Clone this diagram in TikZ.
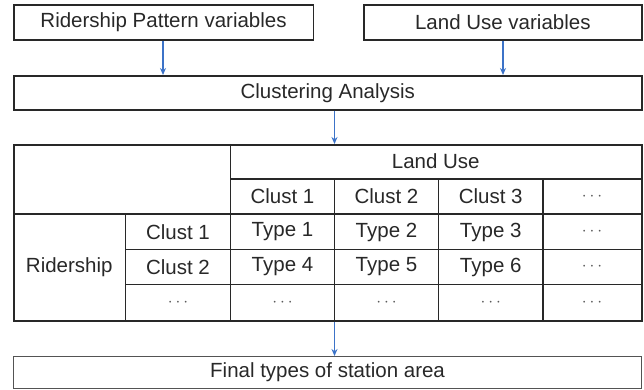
\documentclass[tikz,border=0pt]{standalone}
\usepackage{fontspec}
\setmainfont{Liberation Sans}
\usetikzlibrary{arrows.meta}
\definecolor{ink}{RGB}{40,40,40}
\definecolor{arrowblue}{RGB}{60,115,200}
\definecolor{dotgray}{RGB}{90,90,90}
\begin{document}
\begin{tikzpicture}[x=1pt,y=-1pt,
  box/.style={draw=ink, line width=1.6pt, inner sep=0pt, anchor=north west, font=\fontsize{20.5}{24}\selectfont, text=ink},
  cell/.style={font=\fontsize{20.5}{24}\selectfont, text=ink, inner sep=0pt},
  dotcell/.style={font=\fontsize{17}{20}\selectfont, text=dotgray, inner sep=0pt},
  grid/.style={draw=ink, line width=1.6pt},
  flow/.style={draw=arrowblue, line width=1.5pt, -{Stealth[length=7pt,width=6pt]}}]
\useasboundingbox (0,0) rectangle (644,390);
% top boxes
\node[box, minimum width=299.5pt, minimum height=35pt] (rid) at (13,4) {Ridership Pattern variables};
\node[box, minimum width=278pt, minimum height=35pt] (lu) at (363,4) {Land Use variables};
\node[box, minimum width=628pt, minimum height=34pt] (clu) at (13,75) {Clustering Analysis};
\node[box, draw=ink!80, line width=1.1pt, minimum width=628pt, minimum height=32pt] (fin) at (13,356) {Final types of station area};
% table frame
\node[draw=ink, line width=1.8pt, anchor=north west, minimum width=628pt, minimum height=176pt, inner sep=0pt] (tab) at (13,144) {};
% coordinates of column and row lines
\coordinate (c1) at (125.5,0);
\coordinate (c2) at (230.5,0);
\coordinate (c3) at (334.5,0);
\coordinate (c4) at (438.5,0);
\coordinate (c5) at (543,0);
\coordinate (r1) at (0,179);
\coordinate (r2) at (0,214);
\coordinate (r3) at (0,249.5);
\coordinate (r4) at (0,284.5);
% horizontal lines
\draw[grid] (c2 |- r1) -- (tab.east |- r1);
\draw[grid] (tab.west |- r2) -- (tab.east |- r2);
\draw[grid] (c1 |- r3) -- (tab.east |- r3);
\draw[grid] (c1 |- r4) -- (tab.east |- r4);
% vertical lines
\draw[grid] (c1 |- r2) -- (c1 |- tab.south);
\draw[grid] (c2 |- tab.north) -- (c2 |- tab.south);
\draw[grid] (c3 |- r1) -- (c3 |- tab.south);
\draw[grid] (c4 |- r1) -- (c4 |- tab.south);
\draw[grid] (c5 |- r1) -- (c5 |- tab.south);
% header texts
\node[cell] (hlu) at (435.75,161.5) {Land Use};
\node[cell] (h1) at (282.5,196.5) {Clust 1};
\node[cell] (h2) at (386.5,196.5) {Clust 2};
\node[cell] (h3) at (490.75,196.5) {Clust 3};
\node[dotcell] (h4) at (592,196.5) {$\cdots$};
% row labels
\node[cell] (rr) at (69.25,267) {Ridership};
\node[cell] (rc1) at (178,232) {Clust 1};
\node[cell] (rc2) at (178,267) {Clust 2};
\node[dotcell] (rc3) at (178,302.5) {$\cdots$};
% body
\node[cell] (t1) at (282.5,232) {Type 1};
\node[cell] (t2) at (386.5,232) {Type 2};
\node[cell] (t3) at (490.75,232) {Type 3};
\node[dotcell] (t4) at (592,232) {$\cdots$};
\node[cell] (t5) at (282.5,267) {Type 4};
\node[cell] (t6) at (386.5,267) {Type 5};
\node[cell] (t7) at (490.75,267) {Type 6};
\node[dotcell] (t8) at (592,267) {$\cdots$};
\node[dotcell] (d1) at (282.5,302.5) {$\cdots$};
\node[dotcell] (d2) at (386.5,302.5) {$\cdots$};
\node[dotcell] (d3) at (490.75,302.5) {$\cdots$};
\node[dotcell] (d4) at (592,302.5) {$\cdots$};
% arrows
\coordinate (a1) at (163,0);
\coordinate (a2) at (503,0);
\draw[flow] (a1 |- rid.south) -- (a1 |- clu.north);
\draw[flow] (a2 |- lu.south) -- (a2 |- clu.north);
\draw[flow] (c3 |- clu.south) -- (c3 |- tab.north);
\draw[flow] (c3 |- tab.south) -- (c3 |- fin.north);
\end{tikzpicture}
\end{document}
